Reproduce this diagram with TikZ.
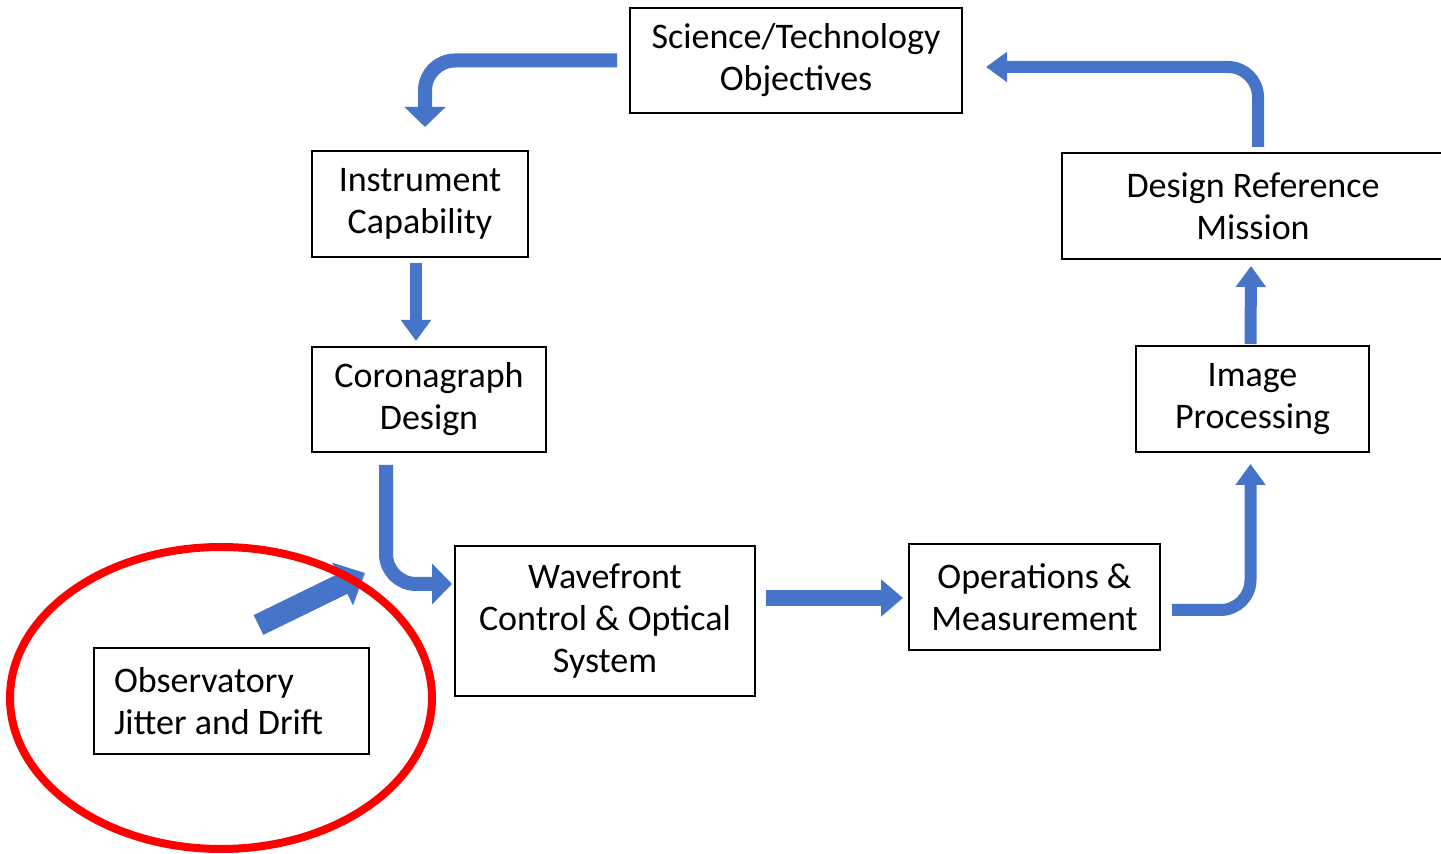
\documentclass[tikz,border=0pt]{standalone}
\usepackage{fontspec}
\setmainfont{Carlito}
\usetikzlibrary{arrows.meta,calc}
\definecolor{arrowblue}{RGB}{70,116,201}
\definecolor{ringred}{RGB}{255,0,0}
\tikzset{
  box/.style={draw, line width=1pt, align=center, inner sep=2pt,
    font=\fontsize{18}{21}\selectfont},
  flow/.style={draw=arrowblue, line width=7pt, rounded corners=15pt,
    -{Triangle[width=20pt,length=10pt]}},
  smallflow/.style={flow, line width=6pt, -{Triangle[width=14.5pt,length=10.5pt]}}
}
\begin{document}
\begin{tikzpicture}[x=0.5pt,y=-0.5pt]
        \useasboundingbox (0,0) rectangle (1441,854);

        \node[box, minimum width=166pt, minimum height=52.5pt] at (796,60.5) (sci) {Science/Technology\\Objectives};
        \node[box, minimum width=108pt, minimum height=53pt] at (420,204) (inst) {Instrument\\Capability};
        \node[box, minimum width=117pt, minimum height=52.5pt] at (429,399.5) (cor) {Coronagraph\\Design};
        \node[box, minimum width=150pt, minimum height=75pt] at (605,621) (wave) {Wavefront\\Control \& Optical\\System};
        \node[box, minimum width=125.5pt, minimum height=53pt] at (1034.5,597) (ops) {Operations \&\\Measurement};
        \node[box, minimum width=116.5pt, minimum height=53pt] at (1252.5,399) (img) {Image\\Processing};
        \node[box, minimum width=191pt, minimum height=53pt] at (1253,206) (drm) {Design Reference\\Mission};
        \node[box, align=flush left, text width=117.5pt, minimum width=137.5pt, minimum height=53pt] at (231.5,701) (obs) {Observatory\\Jitter and Drift};

        \draw[flow] ($(sci.west)+(-12,0)$) -| ($(inst.north)+(5,-23)$);
        \draw[smallflow] ($(inst.south)+(-4,5)$) -- ($(cor.north)+(-13,-5)$);
        \draw[flow] ($(cor.south)+(-43,12)$) |- ($(wave.west)+(-2,-37)$);
        \draw[flow, line width=11pt, -{Triangle[width=23pt,length=12.5pt]}] ($(obs.north)+(27,-22)$) -- ($(wave.west)+(-89,-48)$);
        \draw[flow, line width=8pt, -{Triangle[width=18pt,length=11pt]}] ($(wave.east |- ops.west)+(10,1)$) -- ($(ops.west)+(-5,1)$);
        \draw[smallflow] ($(ops.east)+(11,13)$) -| ($(img.south)+(-2,11)$);
        \draw[smallflow] ($(img.north)+(-2,-1)$) -- ($(drm.south)+(-2,6)$);
        \draw[smallflow] ($(drm.north)+(5,-5)$) |- ($(sci.east)+(23,6.5)$);

        \draw[ringred, line width=4pt] (221,698) ellipse [x radius=211, y radius=151];

    \end{tikzpicture}
\end{document}
